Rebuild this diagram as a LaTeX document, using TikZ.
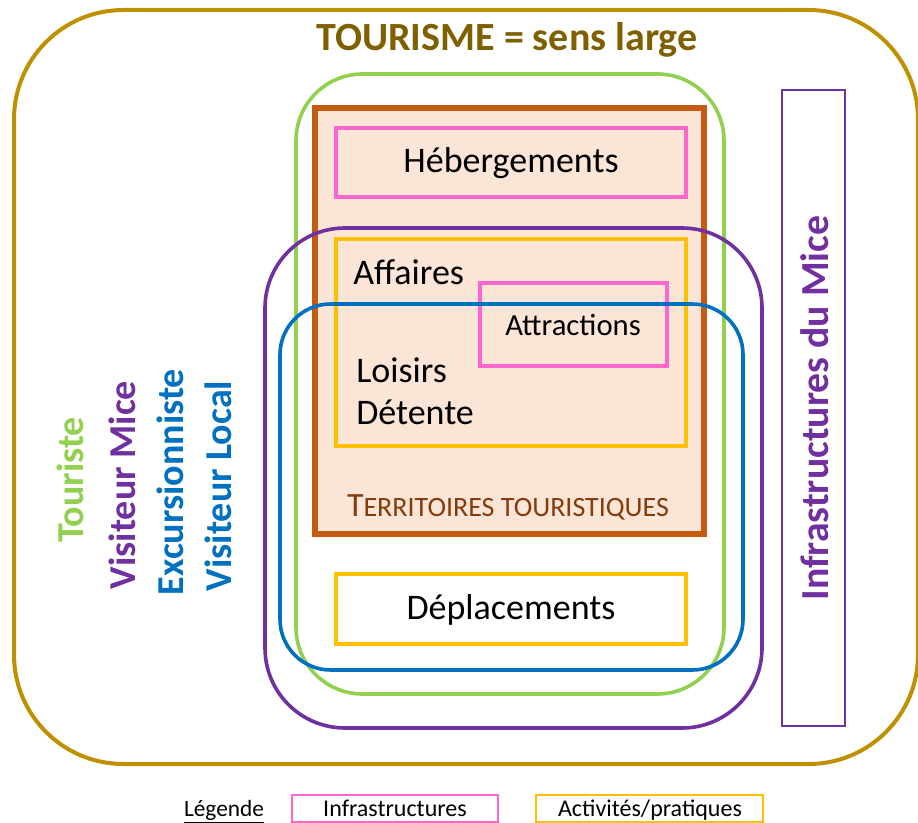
\documentclass[tikz,border=0pt]{standalone}
\usepackage{fontspec}
\setmainfont{Carlito}
\definecolor{cgold}{HTML}{BF9000}
\definecolor{ctitle}{HTML}{7F6000}
\definecolor{cgreen}{HTML}{92D050}
\definecolor{cbrown}{HTML}{C55A11}
\definecolor{cfill}{HTML}{FBE5D6}
\definecolor{cpink}{HTML}{FF66CC}
\definecolor{cyellow}{HTML}{FFC000}
\definecolor{cpurple}{HTML}{7030A0}
\definecolor{cblue}{HTML}{0070C0}
\definecolor{cterr}{HTML}{843C0C}
\newcommand\myfs[1]{\fontsize{#1}{#1}\selectfont}
\begin{document}
\begin{tikzpicture}[x=0.75pt,y=-0.75pt,
  txt/.style={inner sep=0pt, font=\myfs{27pt}},
  sidelab/.style={inner sep=0pt, rotate=90, font=\myfs{28.5pt}\bfseries},
  legtxt/.style={inner sep=0pt, anchor=base, font=\myfs{18pt}},
  infra/.style={draw=cpink, line width=2.4pt},
  activ/.style={draw=cyellow, line width=2.4pt}]
\useasboundingbox (0,0) rectangle (918,823);
% outer
\draw[cgold, line width=3pt, rounded corners=82pt] (14,10) rectangle (918,764);
\node[txt, font=\myfs{30pt}\bfseries, text=ctitle] (title) at (507,40) {TOURISME = sens large};
% green (Touriste)
\draw[cgreen, line width=2.7pt, rounded corners=50pt] (296,74) rectangle (724,694);
% territoires
\draw[cbrown, fill=cfill, line width=3.8pt] (315,108) rectangle (704,534);
\draw[infra] (336,128) rectangle (686,197);
\draw[activ] (336,239) rectangle (686,446);
\draw[infra] (480,283) rectangle (667,366);
\draw[activ] (336,574) rectangle (686,644);
% purple (Visiteur Mice)
\draw[cpurple, line width=2.7pt, rounded corners=60pt] (265,228) rectangle (762,728);
% blue
\draw[cblue, line width=2.7pt, rounded corners=38pt] (280,304) rectangle (743,670);
% right box
\draw[cpurple, line width=1.5pt] (782,90) rectangle (845,726);
\node[sidelab, text=cpurple, font=\myfs{29.8pt}\bfseries] (infmice) at (815,408) {Infrastructures du Mice};
% texts
\node[txt] (heb) at (511,163) {Hébergements};
\node[txt, anchor=west] (aff) at (353,272) {Affaires};
\node[txt, font=\myfs{23pt}] (attr) at (573,325) {Attractions};
\node[txt, anchor=west] (lois) at (356,370) {Loisirs};
\node[txt, anchor=west] (det) at (356,412) {Détente};
\node[inner sep=0pt, text=cterr] (terr) at (508,507) {\myfs{25.5pt}T\myfs{21pt}ERRITOIRES TOURISTIQUES};
\node[txt] (depl) at (511,610) {Déplacements};
% side labels
\node[sidelab, text=cgreen] (tour) at (70,480) {Touriste};
\node[sidelab, text=cpurple] (vmice) at (122,485) {Visiteur Mice};
\node[sidelab, text=cblue] (excu) at (170,482) {Excursionniste};
\node[sidelab, text=cblue] (vloc) at (218,486) {Visiteur Local};
% legend
\node[legtxt, font=\myfs{17.5pt}] (leg) at (224,816) {\underline{Légende}};
\draw[infra, line width=2.2pt] (292,795) rectangle (498,822);
\node[legtxt] (linf) at (395,816) {Infrastructures};
\draw[activ, line width=2.2pt] (536,795) rectangle (763,822);
\node[legtxt] (lact) at (650,816) {Activités/pratiques};
\end{tikzpicture}
\end{document}
